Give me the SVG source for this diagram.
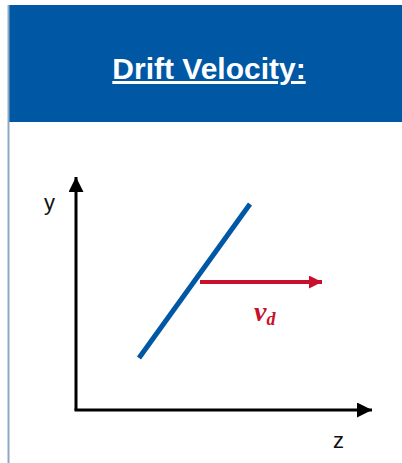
<svg xmlns="http://www.w3.org/2000/svg" width="402" height="463" viewBox="0 0 402 463">
<style>
.axis{stroke:#000;stroke-width:3;fill:none}
.lbl{font-family:"Liberation Sans",Arial,sans-serif;font-size:22px;fill:#111}
</style>
<defs>
<marker id="ah" viewBox="0 0 10 10" refX="10" refY="5" markerUnits="userSpaceOnUse" markerWidth="16" markerHeight="15" orient="auto"><path d="M0,0 L10,5 L0,10 z" fill="#000"/></marker>
<marker id="ahr" viewBox="0 0 10 10" refX="10" refY="5" markerUnits="userSpaceOnUse" markerWidth="14" markerHeight="13" orient="auto"><path d="M0,0 L10,5 L0,10 z" fill="#c8102e"/></marker>
</defs>
<rect width="402" height="463" fill="#fff"/>
<g id="header">
<rect x="8" y="5" width="394" height="117" fill="#0057a4"/>
<text x="209" y="79" text-anchor="middle" font-family="Liberation Sans,Arial,sans-serif" font-weight="bold" font-size="30" fill="#fff" text-decoration="underline">Drift Velocity:</text>
</g>
<line x1="8.5" y1="5" x2="8.5" y2="463" stroke="#8aa9c6" stroke-width="2"/>
<g id="connectors">
<line class="axis" x1="76" y1="410" x2="76" y2="177" marker-end="url(#ah)"/>
<line class="axis" x1="74.5" y1="410" x2="372" y2="410" marker-end="url(#ah)"/>
<line x1="139" y1="358" x2="250" y2="204" stroke="#0057a4" stroke-width="5"/>
<line x1="200" y1="282" x2="322" y2="282" stroke="#c8102e" stroke-width="4" marker-end="url(#ahr)"/>
</g>
<g id="labels">
<text class="lbl" x="44" y="210">y</text>
<text class="lbl" x="333" y="448">z</text>
<text x="254" y="321" font-family="Liberation Serif,Times New Roman,serif" font-style="italic" font-weight="bold" font-size="28" fill="#c8102e">v<tspan font-size="18" dy="4">d</tspan></text>
</g>
</svg>
